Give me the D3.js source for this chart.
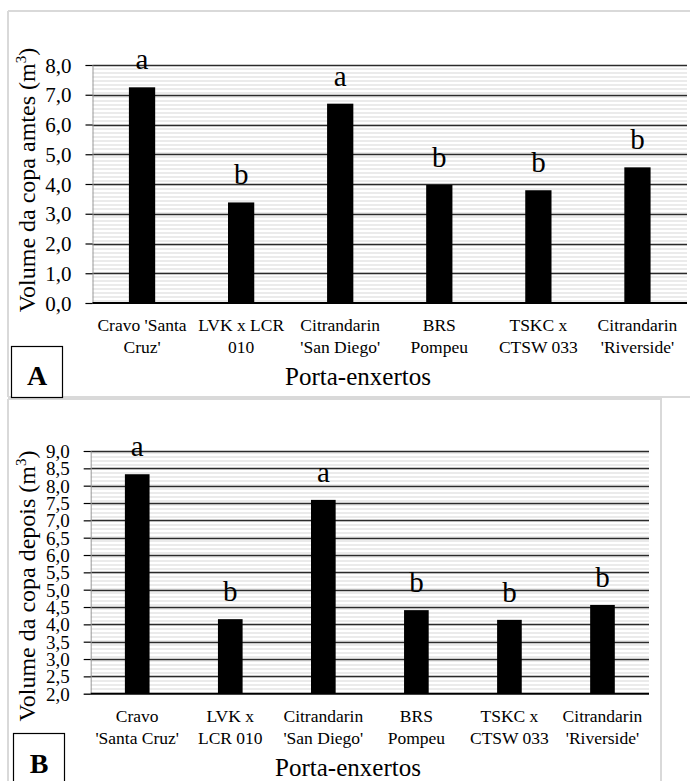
<!DOCTYPE html>
<html>
<head>
<meta charset="utf-8">
<script src="https://cdn.jsdelivr.net/npm/d3@7"></script>
<style>
  html, body { margin: 0; padding: 0; background: #fff; }
  svg { display: block; }
  svg text { font-family: "Liberation Serif", "Times New Roman", Times, serif !important; }
</style>
</head>
<body>
<svg id="fig" width="690" height="781"></svg>
<script>
// Data
const categoriesA = [["Cravo 'Santa", "Cruz'"], ["LVK x LCR", "010"], ["Citrandarin", "'San Diego'"],
                     ["BRS", "Pompeu"], ["TSKC x", "CTSW 033"], ["Citrandarin", "'Riverside'"]];
const valuesA = [7.25, 3.38, 6.70, 3.97, 3.79, 4.56];
const lettersA = ["a", "b", "a", "b", "b", "b"];
const ticksA = [0, 1, 2, 3, 4, 5, 6, 7, 8];

const categoriesB = [["Cravo", "'Santa Cruz'"], ["LVK x", "LCR 010"], ["Citrandarin", "'San Diego'"],
                     ["BRS", "Pompeu"], ["TSKC x", "CTSW 033"], ["Citrandarin", "'Riverside'"]];
const valuesB = [8.33, 4.15, 7.59, 4.41, 4.13, 4.56];
const lettersB = ["a", "b", "a", "b", "b", "b"];
const ticksB = [2, 2.5, 3, 3.5, 4, 4.5, 5, 5.5, 6, 6.5, 7, 7.5, 8, 8.5, 9];

const xTitle = "Porta-enxertos";

const svg = d3.select("#fig");
const fmt = v => d3.format(".1f")(v).replace(".", ",");

// stripe pattern for plot background
const defs = svg.append("defs");
const pat = defs.append("pattern")
  .attr("id", "stripes")
  .attr("patternUnits", "userSpaceOnUse")
  .attr("width", 8).attr("height", 4);
pat.append("rect").attr("width", 8).attr("height", 4).attr("fill", "#fff");
pat.append("rect").attr("y", 0).attr("width", 8).attr("height", 2).attr("fill", "#ebebeb");

// chart frames
svg.append("path")
  .attr("d", "M8,11 H700 M8,11 V397 M8,397 H700")
  .attr("fill", "none").attr("stroke", "#d9d9d9").attr("stroke-width", 2);
svg.append("path")
  .attr("d", "M8,399 H661 V790 M8,399 V790")
  .attr("fill", "none").attr("stroke", "#d9d9d9").attr("stroke-width", 2);

function drawChart(cfg) {
  const g = svg.append("g");
  const x = d3.scaleBand()
    .domain(d3.range(cfg.values.length))
    .range([cfg.left, cfg.right])
    .paddingInner(0.735)
    .paddingOuter(0.735 / 2);
  const y = d3.scaleLinear().domain(cfg.domain).range([cfg.bottom, cfg.top]);

  // plot background
  g.append("rect")
    .attr("x", cfg.left).attr("y", cfg.top)
    .attr("width", cfg.right - cfg.left).attr("height", cfg.bottom - cfg.top)
    .attr("fill", "url(#stripes)");

  // gridlines
  g.append("g").selectAll("line")
    .data(cfg.ticks.filter(t => t !== cfg.domain[0]))
    .join("line")
    .attr("x1", cfg.left).attr("x2", cfg.right)
    .attr("y1", d => Math.round(y(d)) + 0.5).attr("y2", d => Math.round(y(d)) + 0.5)
    .attr("stroke", "#2b2b2b").attr("stroke-width", 1.3);

  // y axis
  const yAxis = d3.axisLeft(y).tickValues(cfg.ticks).tickFormat(fmt).tickSize(7).tickPadding(cfg.tickPad);
  const ya = g.append("g").attr("transform", `translate(${cfg.left},0)`).call(yAxis);
  ya.attr("font-family", null);
  ya.select(".domain").attr("stroke", "#9a9a9a").attr("stroke-width", 1);
  ya.selectAll(".tick line").attr("stroke", "#000").attr("stroke-width", 1.2);
  ya.selectAll(".tick text")
    .attr("font-size", cfg.tickSize)
    .attr("fill", "#000").attr("dy", "0.34em");

  // bars
  g.append("g").selectAll("rect")
    .data(cfg.values)
    .join("rect")
    .attr("x", (d, i) => x(i))
    .attr("y", d => y(d))
    .attr("width", x.bandwidth())
    .attr("height", d => cfg.bottom - y(d))
    .attr("fill", "#000");

  // x axis line
  g.append("line")
    .attr("x1", cfg.left).attr("x2", cfg.right)
    .attr("y1", cfg.bottom).attr("y2", cfg.bottom)
    .attr("stroke", "#000").attr("stroke-width", 2);

  // significance letters
  g.append("g").selectAll("text")
    .data(cfg.values)
    .join("text")
    .attr("x", (d, i) => x(i) + x.bandwidth() / 2)
    .attr("y", d => y(d) - 18)
    .attr("text-anchor", "middle")
    .attr("font-size", 29)
    .text((d, i) => cfg.letters[i]);

  // category labels
  const cat = g.append("g").selectAll("text")
    .data(cfg.categories)
    .join("text")
    .attr("x", (d, i) => x(i) + x.bandwidth() / 2)
    .attr("y", cfg.catY)
    .attr("text-anchor", "middle")
    .attr("font-size", 17.5);
  cat.selectAll("tspan")
    .data(d => d)
    .join("tspan")
    .attr("x", function() { return this.parentNode.getAttribute("x"); })
    .attr("dy", (d, i) => i === 0 ? 0 : 21.5)
    .text(d => d);

  // y title
  const yt = g.append("text")
    .attr("transform", `translate(${cfg.yTitleX},${cfg.yTitleY}) rotate(-90)`)
    .attr("text-anchor", "middle")
    .attr("font-size", 24);
  yt.append("tspan").text(cfg.yTitle + " (m");
  yt.append("tspan").attr("font-size", 15).attr("dy", -9).text("3");
  yt.append("tspan").attr("dy", 9).text(")");

  // x title
  g.append("text")
    .attr("x", cfg.xTitleX).attr("y", cfg.xTitleY)
    .attr("text-anchor", "middle")
    .attr("font-size", 25)
    .text(xTitle);

  // panel letter box
  g.append("rect")
    .attr("x", cfg.boxX + 0.5).attr("y", cfg.boxY + 0.5)
    .attr("width", 51).attr("height", cfg.boxH)
    .attr("fill", "#fff").attr("stroke", "#000").attr("stroke-width", 1.2);
  g.append("text")
    .attr("x", cfg.boxX + 26).attr("y", cfg.boxLetterY)
    .attr("text-anchor", "middle")
    .attr("font-size", 28).attr("font-weight", "bold")
    .text(cfg.panel);
}

drawChart({
  values: valuesA, letters: lettersA, categories: categoriesA, ticks: ticksA,
  domain: [0, 8], left: 92.5, right: 687, top: 65, bottom: 303,
  tickSize: 21, tickPad: 14, catY: 331,
  yTitle: "Volume da copa amtes", yTitleX: 35, yTitleY: 180,
  xTitleX: 358, xTitleY: 385,
  panel: "A", boxX: 11, boxY: 346, boxH: 51, boxLetterY: 385
});

drawChart({
  values: valuesB, letters: lettersB, categories: categoriesB, ticks: ticksB,
  domain: [2, 9], left: 90.7, right: 649, top: 451, bottom: 693.7,
  tickSize: 19, tickPad: 14, catY: 722,
  yTitle: "Volume da copa depois", yTitleX: 35, yTitleY: 586,
  xTitleX: 348, xTitleY: 776,
  panel: "B", boxX: 13, boxY: 733, boxH: 60, boxLetterY: 773
});
</script>
</body>
</html>
